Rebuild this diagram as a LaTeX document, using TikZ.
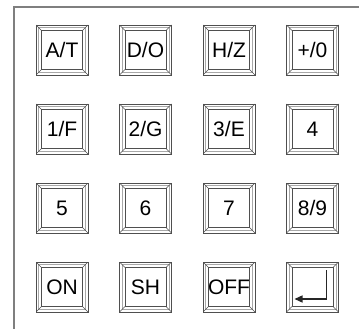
\documentclass[tikz,border=0pt]{standalone}
\usepackage{fontspec}
\setmainfont{Liberation Sans}
\usetikzlibrary{arrows.meta,positioning}
\definecolor{FrameGray}{HTML}{7F7F7F}
\definecolor{KeyEdge}{HTML}{4F4F4F}
\definecolor{KeyLight}{HTML}{A8A8A8}
\tikzset{
  keycap/.style={draw=KeyEdge,line width=0.8pt,minimum width=52pt,minimum height=50pt,
    inner sep=0pt,font=\fontsize{21}{21}\selectfont,
    path picture={
      \draw[KeyLight,line width=0.7pt]
        ([shift={(2.5pt,2.5pt)}]path picture bounding box.south west) rectangle
        ([shift={(-2.5pt,-2.5pt)}]path picture bounding box.north east);
      \draw[KeyEdge,line width=0.8pt]
        ([shift={(5.5pt,5.5pt)}]path picture bounding box.south west) rectangle
        ([shift={(-5.5pt,-5.5pt)}]path picture bounding box.north east);
      \draw[KeyEdge,line width=0.6pt]
        (path picture bounding box.south west) -- ++(5.5pt,5.5pt)
        (path picture bounding box.south east) -- ++(-5.5pt,5.5pt)
        (path picture bounding box.north west) -- ++(5.5pt,-5.5pt)
        (path picture bounding box.north east) -- ++(-5.5pt,-5.5pt);
    }},
  ret arrow/.style={-{Triangle[length=8pt,width=7pt]},draw=black!85,line width=1.3pt}
}
\begin{document}
\begin{tikzpicture}[x=1pt,y=-1pt]
  \useasboundingbox (0,0) rectangle (359,329);
  % outer panel edge
  \draw[FrameGray,line width=1.5pt] (14,329) -- (14,7) -- (359,7);
  % key rows
  \foreach \x/\nm/\txt in {62/kat/{A/T},145.5/kdo/{D/O},229/khz/{H/Z},312.5/kpl/{+/0}}{
    \node[keycap] (\nm) at (\x,50) {\txt};
  }
  \foreach \x/\nm/\txt in {62/kof/{1/F},145.5/ktg/{2/G},229/kte/{3/E},312.5/kfour/{4}}{
    \node[keycap] (\nm) at (\x,129) {\txt};
  }
  \foreach \x/\nm/\txt in {62/kfive/{5},145.5/ksix/{6},229/kseven/{7},312.5/ken/{8/9}}{
    \node[keycap] (\nm) at (\x,208) {\txt};
  }
  \foreach \x/\nm/\txt in {62/kon/{ON},145.5/ksh/{SH},229/koff/{OFF}}{
    \node[keycap] (\nm) at (\x,287) {\txt};
  }
  \node[keycap] (kret) at (312.5,287) {};
  \draw[ret arrow] ([xshift=14pt,yshift=17pt]kret.center) |- ([xshift=-18pt,yshift=-12pt]kret.center);
\end{tikzpicture}
\end{document}
